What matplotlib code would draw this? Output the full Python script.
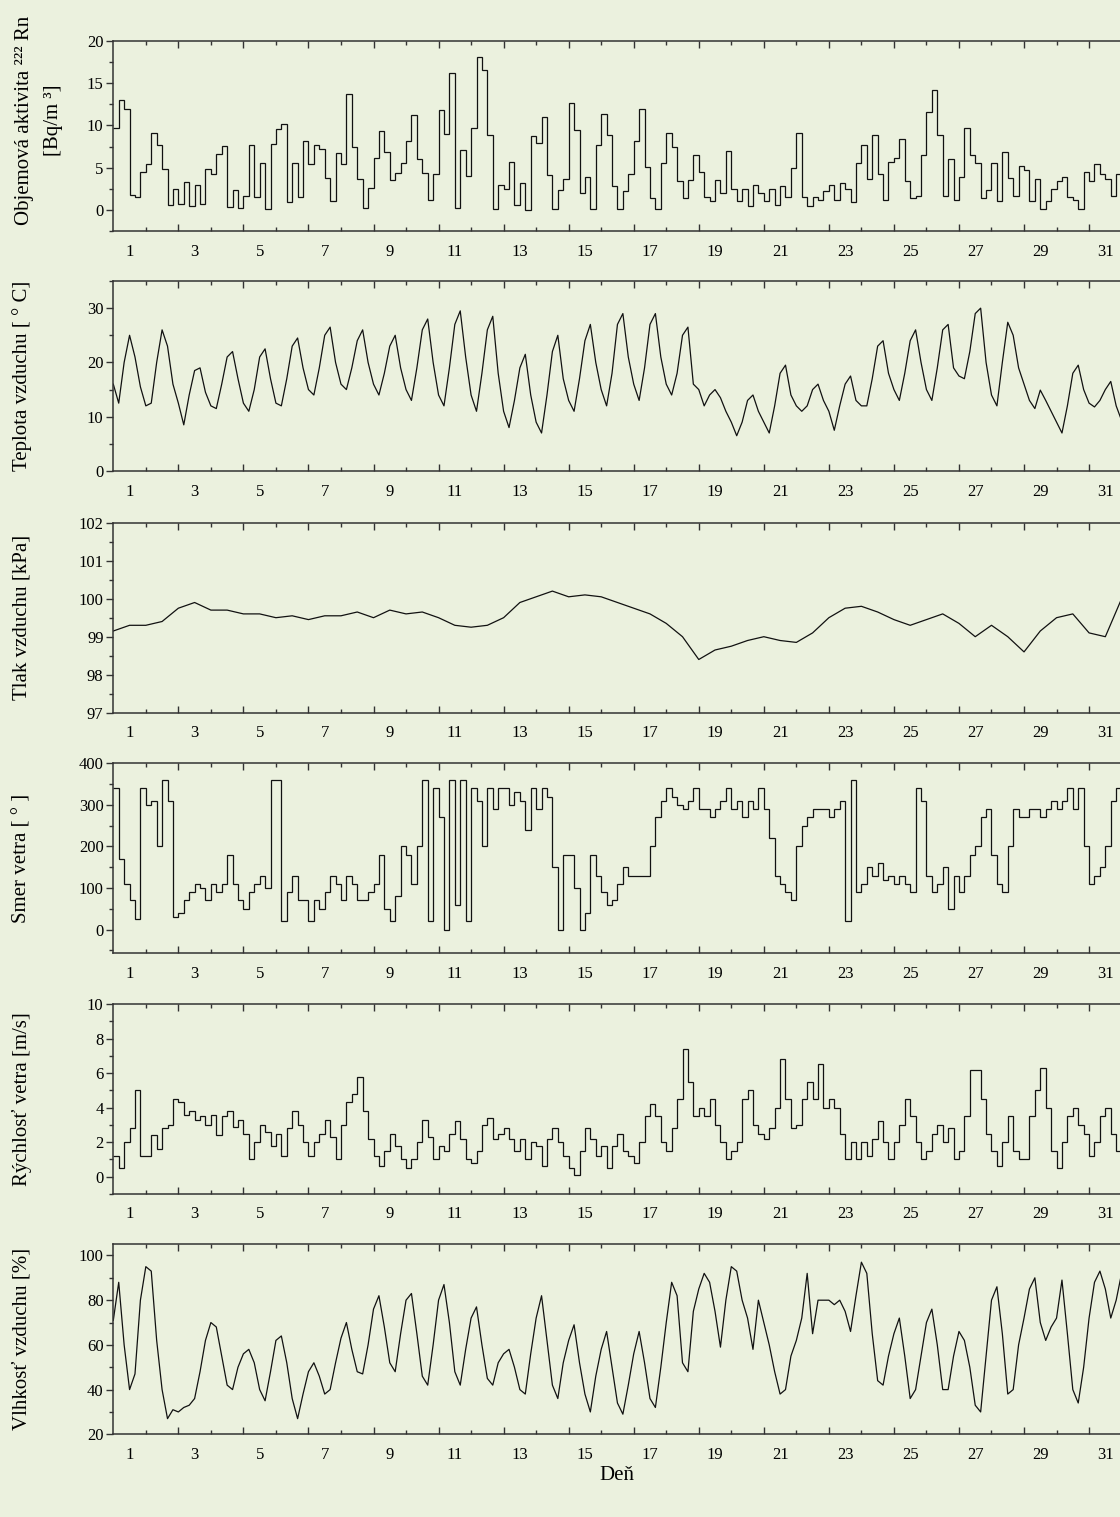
import numpy as np
import matplotlib
matplotlib.use("Agg")
import matplotlib.pyplot as plt
from matplotlib.ticker import MultipleLocator

# ---- data ----
# radon, 4-hour steps, 6 values per day
radon = [
    9.7, 13.0, 12.0, 1.8, 1.5, 4.5,     # 1
    5.4, 9.1, 7.7, 4.8, 0.6, 2.5,       # 2
    0.7, 3.3, 0.5, 3.0, 0.7, 4.9,       # 3
    4.3, 6.6, 7.6, 0.3, 2.4, 0.2,       # 4
    1.7, 7.7, 1.5, 5.5, 0.1, 7.8,       # 5
    9.6, 10.2, 0.9, 5.6, 1.5, 8.1,      # 6
    5.4, 7.7, 7.2, 3.8, 1.0, 6.7,       # 7
    5.4, 13.7, 7.5, 3.6, 0.2, 2.6,      # 8
    6.2, 9.3, 6.8, 3.5, 4.4, 5.5,       # 9
    8.1, 11.2, 6.0, 4.4, 1.2, 4.2,      # 10
    11.8, 9.0, 16.2, 0.2, 7.1, 4.0,     # 11
    9.7, 18.1, 16.6, 8.9, 0.1, 3.0,     # 12
    2.5, 5.7, 0.6, 3.2, 0.0, 8.7,       # 13
    7.9, 11.0, 4.1, 0.1, 2.4, 3.7,      # 14
    12.6, 9.5, 2.0, 3.9, 0.1, 7.7,      # 15
    11.4, 8.9, 2.8, 0.1, 2.2, 4.3,      # 16
    8.1, 12.0, 5.1, 1.4, 0.1, 5.5,      # 17
    9.1, 7.5, 3.4, 1.4, 3.5, 6.5,       # 18
    4.5, 1.5, 1.0, 3.5, 2.0, 7.0,       # 19
    2.5, 1.0, 2.5, 0.5, 3.0, 2.0,       # 20
    1.0, 2.5, 0.6, 2.8, 1.5, 5.0,       # 21
    9.1, 1.5, 0.5, 1.5, 1.2, 2.2,       # 22
    3.0, 1.2, 3.2, 2.5, 0.9, 5.5,       # 23
    7.7, 3.7, 8.9, 4.3, 1.2, 5.7,       # 24
    6.2, 8.4, 3.4, 1.4, 1.6, 6.5,       # 25
    11.6, 14.2, 8.9, 1.6, 6.0, 1.2,     # 26
    3.9, 9.7, 6.5, 5.6, 1.4, 2.4,       # 27
    5.5, 1.0, 6.9, 3.8, 1.7, 5.2,       # 28
    4.7, 1.0, 3.7, 0.1, 1.0, 2.5,       # 29
    3.4, 3.9, 1.5, 1.2, 0.1, 4.5,       # 30
    3.4, 5.4, 4.3, 3.7, 1.6, 4.3,       # 31
]

# temperature, samples every 4 h from day 0.5 to 31.5
teplota = [
    16, 12.5, 20, 25, 21, 15.5,     # 1
    12, 12.5, 20, 26, 23, 16,       # 2
    12.5, 8.5, 14, 18.5, 19, 14.5,  # 3
    12, 11.5, 16, 21, 22, 17,       # 4
    12.5, 11, 15, 21, 22.5, 17,     # 5
    12.5, 12, 17, 23, 24.5, 19,     # 6
    15, 14, 19, 25, 26.5, 20,       # 7
    16, 15, 19, 24, 26, 20,         # 8
    16, 14, 18, 23, 25, 19,         # 9
    15, 13, 19, 26, 28, 20,         # 10
    14, 12, 19, 27, 29.5, 21,       # 11
    14, 11, 18, 26, 28.5, 18,       # 12
    11, 8, 13, 19, 21.5, 14,        # 13
    9, 7, 14, 22, 25, 17,           # 14
    13, 11, 17, 24, 27, 20,         # 15
    15, 12, 18, 27, 29, 21,         # 16
    16, 13, 19, 27, 29, 21,         # 17
    16, 14, 18, 25, 26.5, 16,       # 18
    15, 12, 14, 15, 13.5, 11,       # 19
    9, 6.5, 9, 13, 14, 11,          # 20
    9, 7, 12, 18, 19.5, 14,         # 21
    12, 11, 12, 15, 16, 13,         # 22
    11, 7.5, 12, 16, 17.5, 13,      # 23
    12, 12, 17, 23, 24, 18,         # 24
    15, 13, 18, 24, 26, 20,         # 25
    15, 13, 19, 26, 27, 19,         # 26
    17.5, 17, 22, 29, 30, 20,       # 27
    14, 12, 20, 27.4, 25, 19,       # 28
    16, 13, 11.5, 14.9, 13, 11,     # 29
    9, 7, 12, 18, 19.5, 15,         # 30
    12.5, 11.8, 13, 15, 16.5, 12,   # 31
    9.3,
]

# pressure, samples every 12 h from day 0.5 to 31.5
tlak = [
    99.15, 99.3, 99.3, 99.4, 99.75, 99.9, 99.7, 99.7, 99.6, 99.6,
    99.5, 99.55, 99.45, 99.55, 99.55, 99.65, 99.5, 99.7, 99.6, 99.65,
    99.5, 99.3, 99.25, 99.3, 99.5, 99.9, 100.05, 100.2, 100.05, 100.1,
    100.05, 99.9, 99.75, 99.6, 99.35, 99.0, 98.4, 98.65, 98.75, 98.9,
    99.0, 98.9, 98.85, 99.1, 99.5, 99.75, 99.8, 99.65, 99.45, 99.3,
    99.45, 99.6, 99.35, 99.0, 99.3, 99.0, 98.6, 99.15, 99.5, 99.6,
    99.1, 99.0, 100.0,
]

# wind direction, 4-hour steps
smer = [
    340, 170, 110, 70, 25, 340,     # 1
    300, 310, 200, 360, 310, 30,    # 2
    40, 70, 90, 110, 100, 70,       # 3
    110, 90, 110, 180, 110, 70,     # 4
    50, 90, 110, 130, 100, 360,     # 5
    360, 20, 90, 130, 70, 70,       # 6
    20, 70, 50, 90, 130, 110,       # 7
    70, 130, 110, 70, 70, 90,       # 8
    110, 180, 50, 20, 80, 200,      # 9
    180, 110, 200, 360, 20, 340,    # 10
    270, 0, 360, 60, 360, 20,       # 11
    340, 310, 200, 340, 290, 340,   # 12
    340, 300, 330, 310, 240, 340,   # 13
    290, 340, 320, 150, 0, 180,     # 14
    180, 100, 0, 40, 180, 130,      # 15
    90, 60, 70, 110, 150, 130,      # 16
    130, 130, 130, 200, 270, 310,   # 17
    340, 320, 300, 290, 310, 340,   # 18
    290, 290, 270, 290, 310, 340,   # 19
    290, 310, 270, 310, 290, 340,   # 20
    290, 220, 130, 110, 90, 70,     # 21
    200, 250, 270, 290, 290, 290,   # 22
    270, 290, 310, 20, 360, 90,     # 23
    110, 150, 130, 160, 120, 130,   # 24
    110, 130, 110, 90, 340, 310,    # 25
    130, 90, 110, 150, 50, 130,     # 26
    90, 130, 180, 200, 270, 290,    # 27
    180, 110, 90, 200, 290, 270,    # 28
    270, 290, 290, 270, 290, 310,   # 29
    290, 310, 340, 290, 340, 200,   # 30
    110, 130, 150, 200, 310, 340,   # 31
]

# wind speed, 4-hour steps
rychlost = [
    1.2, 0.5, 2.0, 2.8, 5.0, 1.2,   # 1
    1.2, 2.4, 1.6, 2.8, 3.0, 4.5,   # 2
    4.3, 3.6, 3.8, 3.3, 3.5, 3.0,   # 3
    3.6, 2.4, 3.5, 3.8, 2.9, 3.3,   # 4
    2.5, 1.0, 2.0, 3.0, 2.6, 1.8,   # 5
    2.5, 1.2, 2.8, 3.8, 3.0, 2.0,   # 6
    1.2, 2.0, 2.5, 3.3, 2.3, 1.0,   # 7
    3.0, 4.3, 4.8, 5.8, 3.8, 2.2,   # 8
    1.2, 0.6, 1.5, 2.5, 1.8, 1.0,   # 9
    0.5, 1.0, 2.0, 3.3, 2.3, 1.0,   # 10
    1.8, 1.5, 2.5, 3.2, 2.2, 1.0,   # 11
    0.8, 1.5, 3.0, 3.4, 2.2, 2.5,   # 12
    2.8, 2.2, 1.5, 2.2, 1.0, 2.0,   # 13
    1.8, 0.6, 2.2, 2.8, 2.0, 1.2,   # 14
    0.5, 0.1, 1.5, 2.8, 2.2, 1.2,   # 15
    1.8, 0.5, 1.8, 2.5, 1.5, 1.2,   # 16
    0.8, 2.0, 3.5, 4.2, 3.5, 2.0,   # 17
    1.5, 2.8, 4.5, 7.4, 5.5, 3.5,   # 18
    4.0, 3.5, 4.5, 3.0, 2.0, 1.0,   # 19
    1.5, 2.0, 4.5, 5.0, 3.0, 2.5,   # 20
    2.2, 2.8, 4.0, 6.8, 4.5, 2.8,   # 21
    3.0, 4.5, 5.5, 4.5, 6.5, 4.0,   # 22
    4.5, 4.0, 2.5, 1.0, 2.0, 1.0,   # 23
    2.0, 1.2, 2.2, 3.2, 2.0, 1.0,   # 24
    2.0, 3.0, 4.5, 3.5, 2.0, 1.0,   # 25
    1.5, 2.5, 3.0, 2.0, 2.8, 1.0,   # 26
    1.5, 3.5, 6.2, 6.2, 4.5, 2.5,   # 27
    1.5, 0.6, 2.0, 3.5, 1.5, 1.0,   # 28
    1.0, 3.5, 5.0, 6.3, 4.0, 1.5,   # 29
    0.5, 2.0, 3.5, 4.0, 3.0, 2.5,   # 30
    1.2, 2.0, 3.5, 4.0, 2.5, 1.5,   # 31
]

# relative humidity, samples every 4 h from day 0.5 to 31.5
vlhkost = [
    71, 88, 60, 40, 47, 80,     # 1
    95, 93, 62, 40, 27, 31,     # 2
    30, 32, 33, 36, 48, 62,     # 3
    70, 68, 55, 42, 40, 50,     # 4
    56, 58, 52, 40, 35, 48,     # 5
    62, 64, 52, 36, 27, 38,     # 6
    48, 52, 46, 38, 40, 52,     # 7
    63, 70, 58, 48, 47, 60,     # 8
    76, 82, 68, 52, 48, 65,     # 9
    80, 83, 65, 46, 42, 60,     # 10
    80, 87, 70, 48, 42, 58,     # 11
    72, 77, 60, 45, 42, 52,     # 12
    56, 58, 50, 40, 38, 56,     # 13
    72, 82, 62, 42, 36, 52,     # 14
    62, 69, 52, 38, 30, 46,     # 15
    58, 66, 50, 34, 29, 42,     # 16
    56, 66, 52, 36, 32, 50,     # 17
    70, 88, 82, 52, 48, 75,     # 18
    85, 92, 88, 75, 59, 80,     # 19
    95, 93, 80, 72, 58, 80,     # 20
    70, 60, 48, 38, 40, 55,     # 21
    62, 72, 92, 65, 80, 80,     # 22
    80, 78, 80, 75, 66, 82,     # 23
    97, 92, 65, 44, 42, 55,     # 24
    65, 72, 55, 36, 40, 55,     # 25
    70, 76, 60, 40, 40, 55,     # 26
    66, 62, 50, 33, 30, 55,     # 27
    80, 86, 65, 38, 40, 60,     # 28
    72, 85, 90, 70, 62, 68,     # 29
    72, 89, 65, 40, 34, 50,     # 30
    72, 88, 93, 85, 72, 80,     # 31
    92,
]

labels = [
    "Objemová aktivita ²²² Rn\n[Bq/m ³]",
    "Teplota vzduchu [ ° C]",
    "Tlak vzduchu [kPa]",
    "Smer vetra [ ° ]",
    "Rýchlosť vetra [m/s]",
    "Vlhkosť vzduchu [%]",
]
dni = list(range(1, 32, 2))

# ---- figure ----
bg = "#ebf1de"
plt.rcParams["font.family"] = ["Liberation Serif", "DejaVu Serif"]
fig = plt.figure(figsize=(11.2, 15.17), dpi=100, facecolor=bg)
W, H = 1120.0, 1517.0

left = 113.3 / W
width = (1121.6 - 113.3) / W
tops = [41, 281, 522.7, 763.3, 1004, 1244.3]
ph = 190

ylims = [(-2.5, 20), (0, 35), (97, 102), (-57, 400), (-1, 10), (20, 105)]
ymaj = [5, 10, 1, 100, 2, 20]
ymin = [2.5, 5, 0.5, 50, 1, 10]

axes = []
for i in range(6):
    ax = fig.add_axes([left, 1 - (tops[i] + ph) / H, width, ph / H], facecolor=bg)
    axes.append(ax)

lw = 0.9
col = "#111111"
# step series
axes[0].stairs(radon, np.linspace(0.5, 31.5, len(radon) + 1), baseline=None, color=col, lw=lw)
axes[3].stairs(smer, np.linspace(0.5, 31.5, len(smer) + 1), baseline=None, color=col, lw=lw)
axes[4].stairs(rychlost, np.linspace(0.5, 31.5, len(rychlost) + 1), baseline=None, color=col, lw=lw)
# sampled series
axes[1].plot(np.linspace(0.5, 31.5, len(teplota)), teplota, color=col, lw=lw)
axes[2].plot(np.linspace(0.5, 31.5, len(tlak)), tlak, color=col, lw=lw)
axes[5].plot(np.linspace(0.5, 31.5, len(vlhkost)), vlhkost, color=col, lw=lw)

for i, ax in enumerate(axes):
    ax.set_xlim(0.5, 31.5)
    ax.set_ylim(*ylims[i])
    ax.yaxis.set_major_locator(MultipleLocator(ymaj[i]))
    ax.yaxis.set_minor_locator(MultipleLocator(ymin[i]))
    ax.set_xticks(np.arange(2.5, 32, 2))
    ax.set_xticks(np.arange(1.5, 32, 2), minor=True)
    ax.tick_params(axis="x", which="both", direction="in", top=True, bottom=True,
                   labelbottom=False, color="#333333", width=1.0)
    ax.tick_params(axis="x", which="major", length=5)
    ax.tick_params(axis="x", which="minor", length=3)
    ax.tick_params(axis="y", which="both", direction="out", color="#333333", width=1.0,
                   labelsize=12, pad=2)
    ax.tick_params(axis="y", which="major", length=5)
    ax.tick_params(axis="y", which="minor", length=3)
    for s in ["left", "top", "bottom"]:
        ax.spines[s].set_color("#333333")
        ax.spines[s].set_linewidth(1.1)
    ax.spines["right"].set_visible(False)

    sec = ax.secondary_xaxis("bottom")
    sec.set_xticks(dni)
    sec.set_xticklabels([str(d) for d in dni])
    sec.tick_params(length=0, pad=9, labelsize=12)
    sec.spines["bottom"].set_visible(False)

    yc = 1 - (tops[i] + ph / 2) / H
    if i == 0:
        fig.text(39 / W, 1 - 120 / H, labels[i], rotation=90, ha="center", va="center",
                 fontsize=15, linespacing=1.7, multialignment="center")
    else:
        fig.text(22 / W, yc, labels[i], rotation=90, ha="center", va="center", fontsize=15)

fig.text(617 / W, 1 - 1476 / H, "Deň", ha="center", va="center", fontsize=15)

fig.savefig("out.png", dpi=100, facecolor=bg)
